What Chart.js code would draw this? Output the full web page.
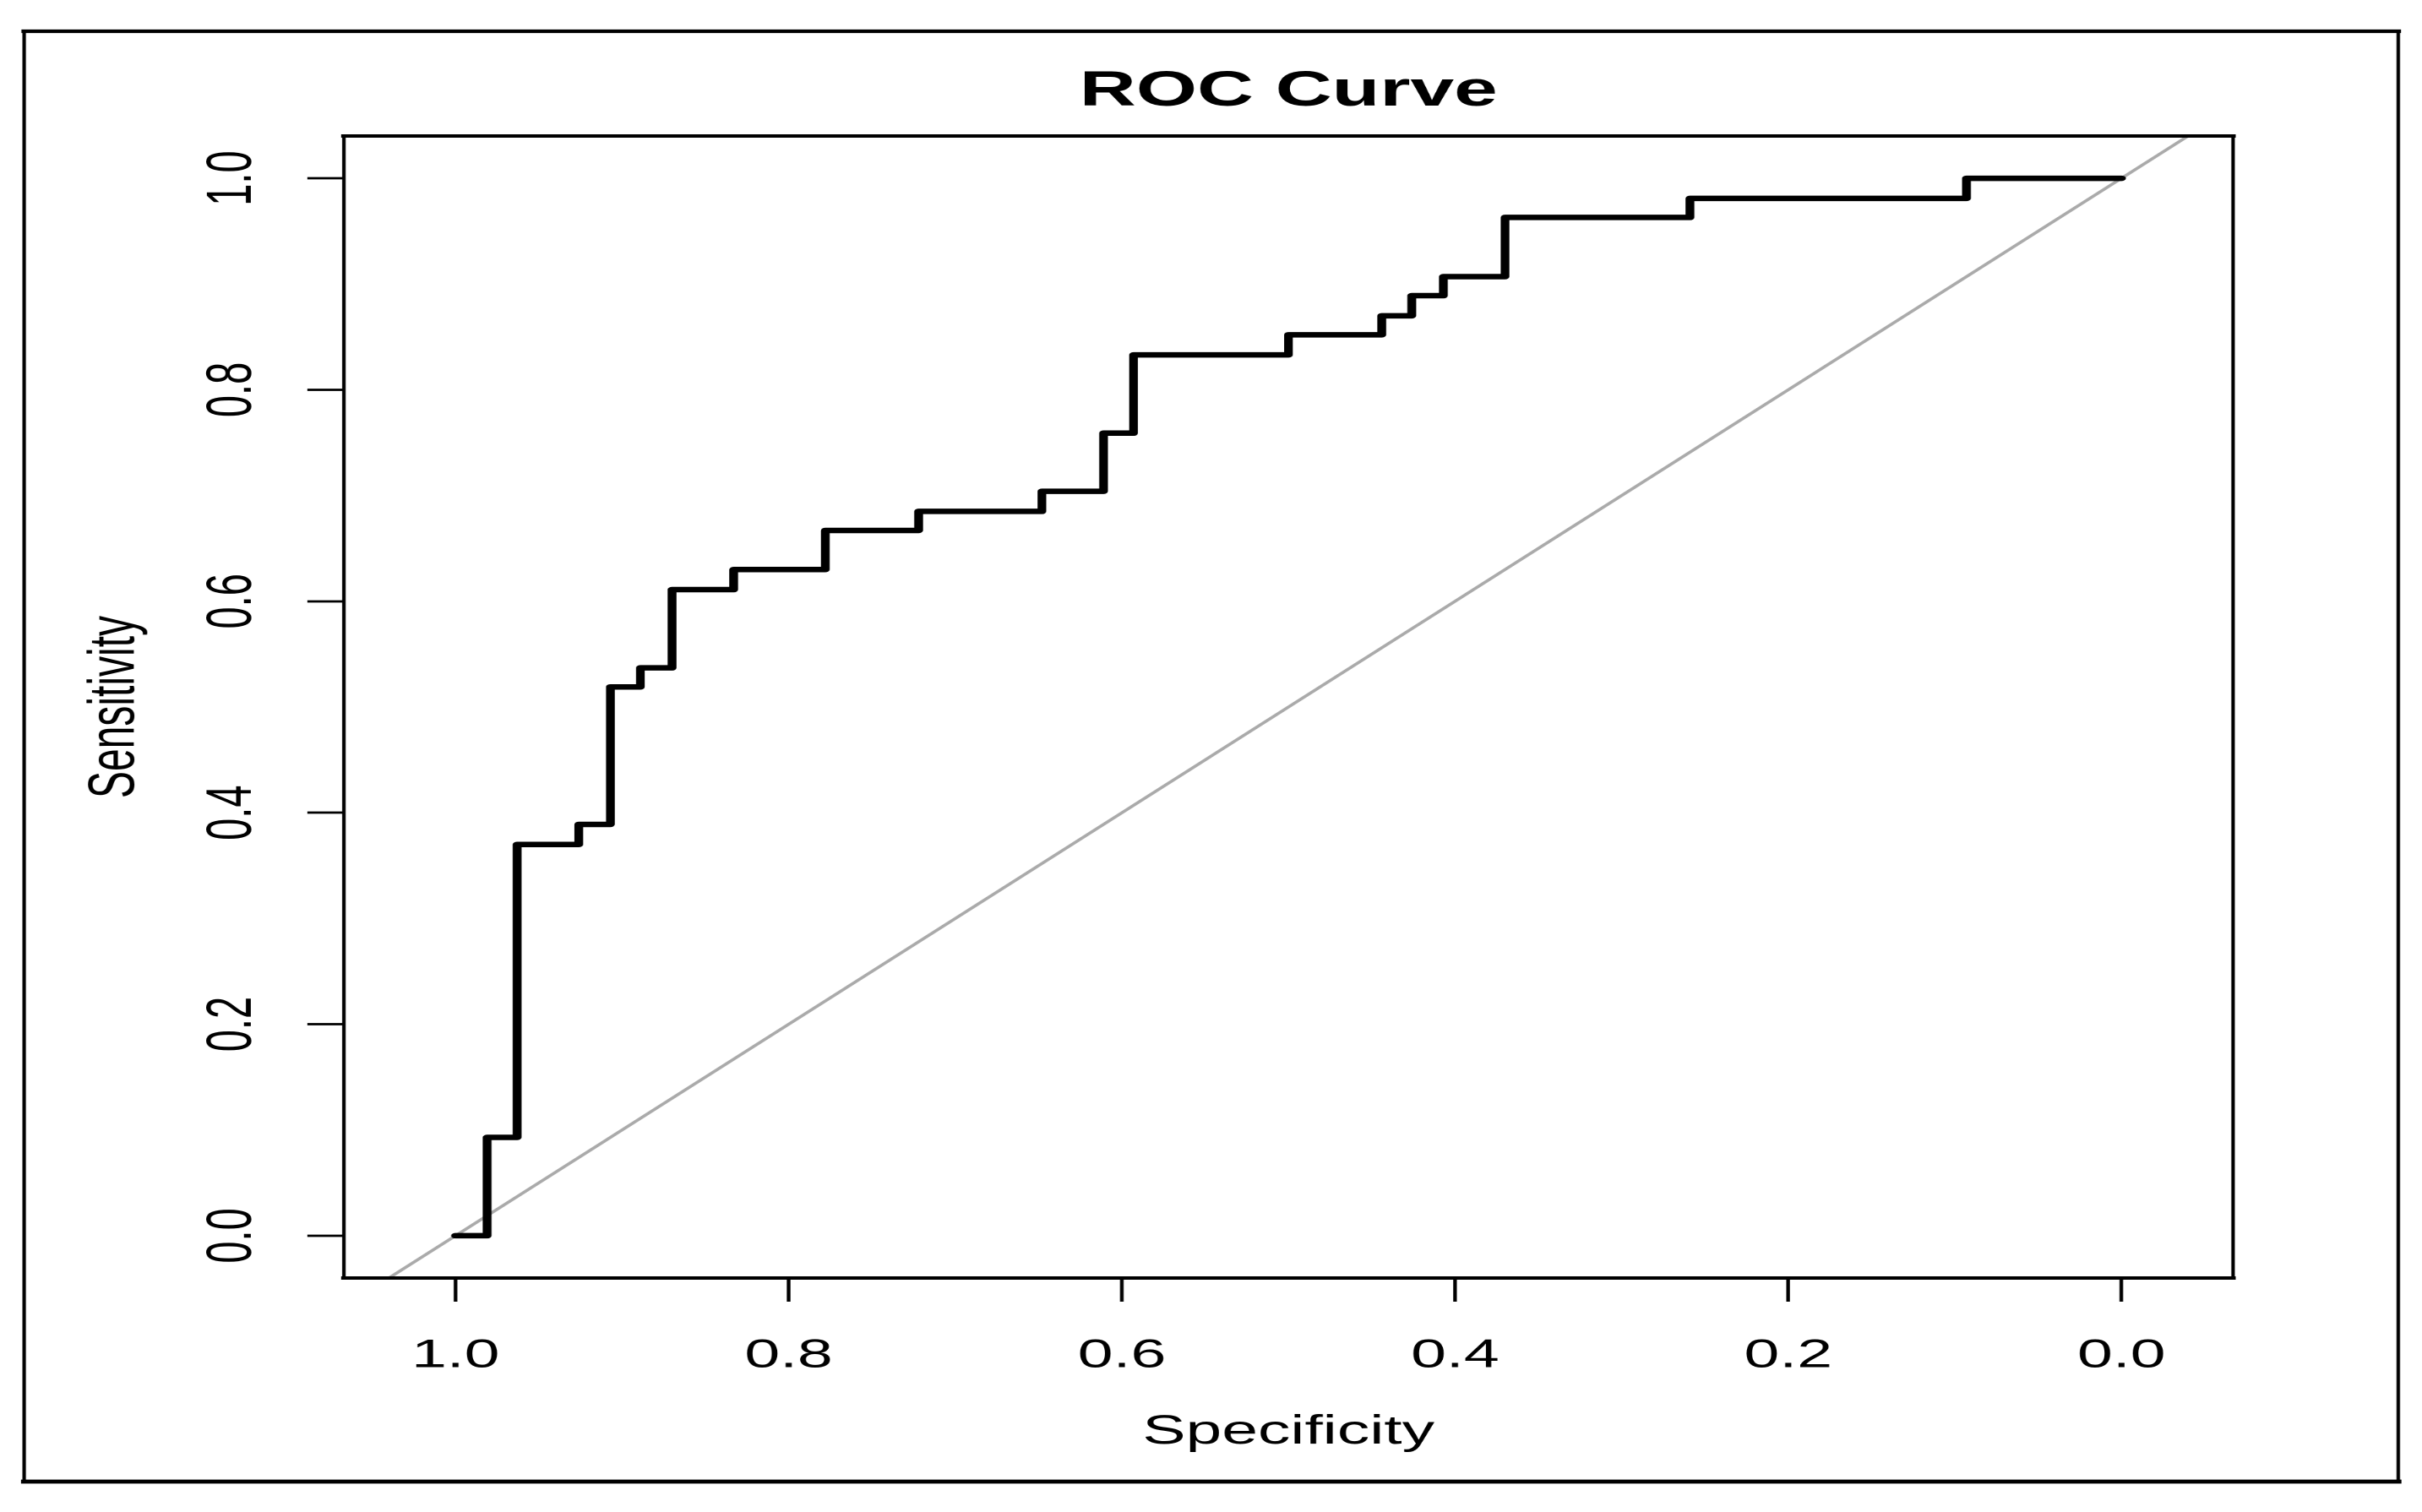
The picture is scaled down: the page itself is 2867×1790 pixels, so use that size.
<!DOCTYPE html>
<html>
<head>
<meta charset="utf-8">
<script src="https://cdn.jsdelivr.net/npm/chart.js@4.4.1/dist/chart.umd.min.js"></script>
<style>
  html, body { margin: 0; padding: 0; background: #fff; overflow: hidden; }
  #c { display: block; }
</style>
</head>
<body>
<canvas id="c" width="1792" height="1790" style="width:2867px;height:1790px;"></canvas>
<script>
// ---- data ----
const chartTitle = 'ROC Curve';
const xTitle = 'Specificity';
const yTitle = 'Sensitivity';

// ROC curve corner points (specificity, sensitivity), in drawing order
const specificity = [1.000, 0.981, 0.963, 0.926, 0.907, 0.889, 0.870, 0.833, 0.778, 0.722,
                     0.648, 0.611, 0.593, 0.500, 0.444, 0.426, 0.407, 0.370, 0.259, 0.093, 0.000];
const sensitivity = [0.000, 0.093, 0.370, 0.389, 0.519, 0.537, 0.611, 0.630, 0.667, 0.685,
                     0.704, 0.759, 0.833, 0.852, 0.870, 0.889, 0.907, 0.963, 0.981, 1.000, 1.000];

const xTicks = [1.0, 0.8, 0.6, 0.4, 0.2, 0.0];
const yTicks = [0.0, 0.2, 0.4, 0.6, 0.8, 1.0];

const xMin = -0.067, xMax = 1.067;
const yMin = -0.04, yMax = 1.04;

// chance (identity) line: sensitivity = 1 - specificity, across the whole x range
const chanceSpec = [xMax, xMin];
const chanceSens = chanceSpec.map(s => 1 - s);

// ---- chart ----
const FONT = '"Liberation Sans", Arial, Helvetica, sans-serif';

const framePlugin = {
  id: 'frame',
  afterDraw(chart) {
    const ctx = chart.ctx, a = chart.chartArea;
    ctx.save();
    ctx.strokeStyle = '#000';
    ctx.lineCap = 'square';
    const h = (x1, x2, y, w) => { ctx.lineWidth = w; ctx.beginPath(); ctx.moveTo(x1, y); ctx.lineTo(x2, y); ctx.stroke(); };
    const v = (x, y1, y2, w) => { ctx.lineWidth = w; ctx.beginPath(); ctx.moveTo(x, y1); ctx.lineTo(x, y2); ctx.stroke(); };
    // plot box
    h(a.left, a.right, a.top, 4);
    h(a.left, a.right, a.bottom, 4);
    v(a.left, a.top, a.bottom, 2.6);
    v(a.right, a.top, a.bottom, 2.6);
    // outer figure border
    h(17.9, 1774.4, 37, 4.2);
    h(17.9, 1774.4, 1754, 4.8);
    v(17.9, 37, 1754, 2.6);
    v(1774.4, 37, 1754, 2.6);
    ctx.restore();
  }
};

new Chart(document.getElementById('c'), {
  type: 'scatter',
  data: {
    datasets: [
      {
        label: 'ROC',
        data: specificity.map((s, i) => ({ x: s, y: sensitivity[i] })),
        showLine: true,
        stepped: 'before',
        borderColor: '#000',
        borderWidth: 6.5,
        borderCapStyle: 'round',
        borderJoinStyle: 'round',
        pointRadius: 0,
        fill: false
      },
      {
        label: 'Chance',
        data: chanceSpec.map((s, i) => ({ x: s, y: chanceSens[i] })),
        showLine: true,
        borderColor: '#AAAAAA',
        borderWidth: 3,
        pointRadius: 0,
        fill: false
      }
    ]
  },
  options: {
    responsive: false,
    animation: false,
    devicePixelRatio: 2,
    layout: { padding: { left: 0, right: 139.8, top: 0, bottom: 0 } },
    plugins: {
      legend: { display: false },
      tooltip: { enabled: false },
      title: {
        display: true,
        text: chartTitle,
        color: '#000',
        fullSize: false,
        font: { family: FONT, size: 58, weight: 'bold', lineHeight: 1 },
        padding: { top: 80, bottom: 23 }
      }
    },
    scales: {
      x: {
        type: 'linear',
        reverse: true,
        min: xMin,
        max: xMax,
        afterBuildTicks: s => { s.ticks = xTicks.map(v => ({ value: v })); },
        afterFit: s => { s.height = 277; },
        border: { display: false },
        grid: { drawOnChartArea: false, drawTicks: true, tickLength: 28, tickWidth: 2.7, tickColor: '#000' },
        ticks: {
          color: '#000',
          font: { family: FONT, size: 47, lineHeight: 1 },
          padding: 41,
          maxRotation: 0, minRotation: 0,
          callback: v => Number(v).toFixed(1)
        },
        title: {
          display: true, text: xTitle, color: '#000',
          font: { family: FONT, size: 48, lineHeight: 1 },
          padding: { top: 0, bottom: 70 }
        }
      },
      y: {
        type: 'linear',
        min: yMin,
        max: yMax,
        afterBuildTicks: s => { s.ticks = yTicks.map(v => ({ value: v })); },
        afterFit: s => { s.width = 254.4; },
        border: { display: false },
        grid: { drawOnChartArea: false, drawTicks: true, tickLength: 27, tickWidth: 2.7, tickColor: '#000' },
        ticks: {
          color: '#000',
          font: { family: FONT, size: 47, lineHeight: 1 },
          padding: 22,
          minRotation: 90, maxRotation: 90,
          crossAlign: 'center',
          callback: v => Number(v).toFixed(1)
        },
        title: {
          display: true, text: yTitle, color: '#000',
          font: { family: FONT, size: 48, lineHeight: 1 },
          padding: { top: 62, bottom: 0 }
        }
      }
    }
  },
  plugins: [framePlugin]
});
</script>
</body>
</html>
